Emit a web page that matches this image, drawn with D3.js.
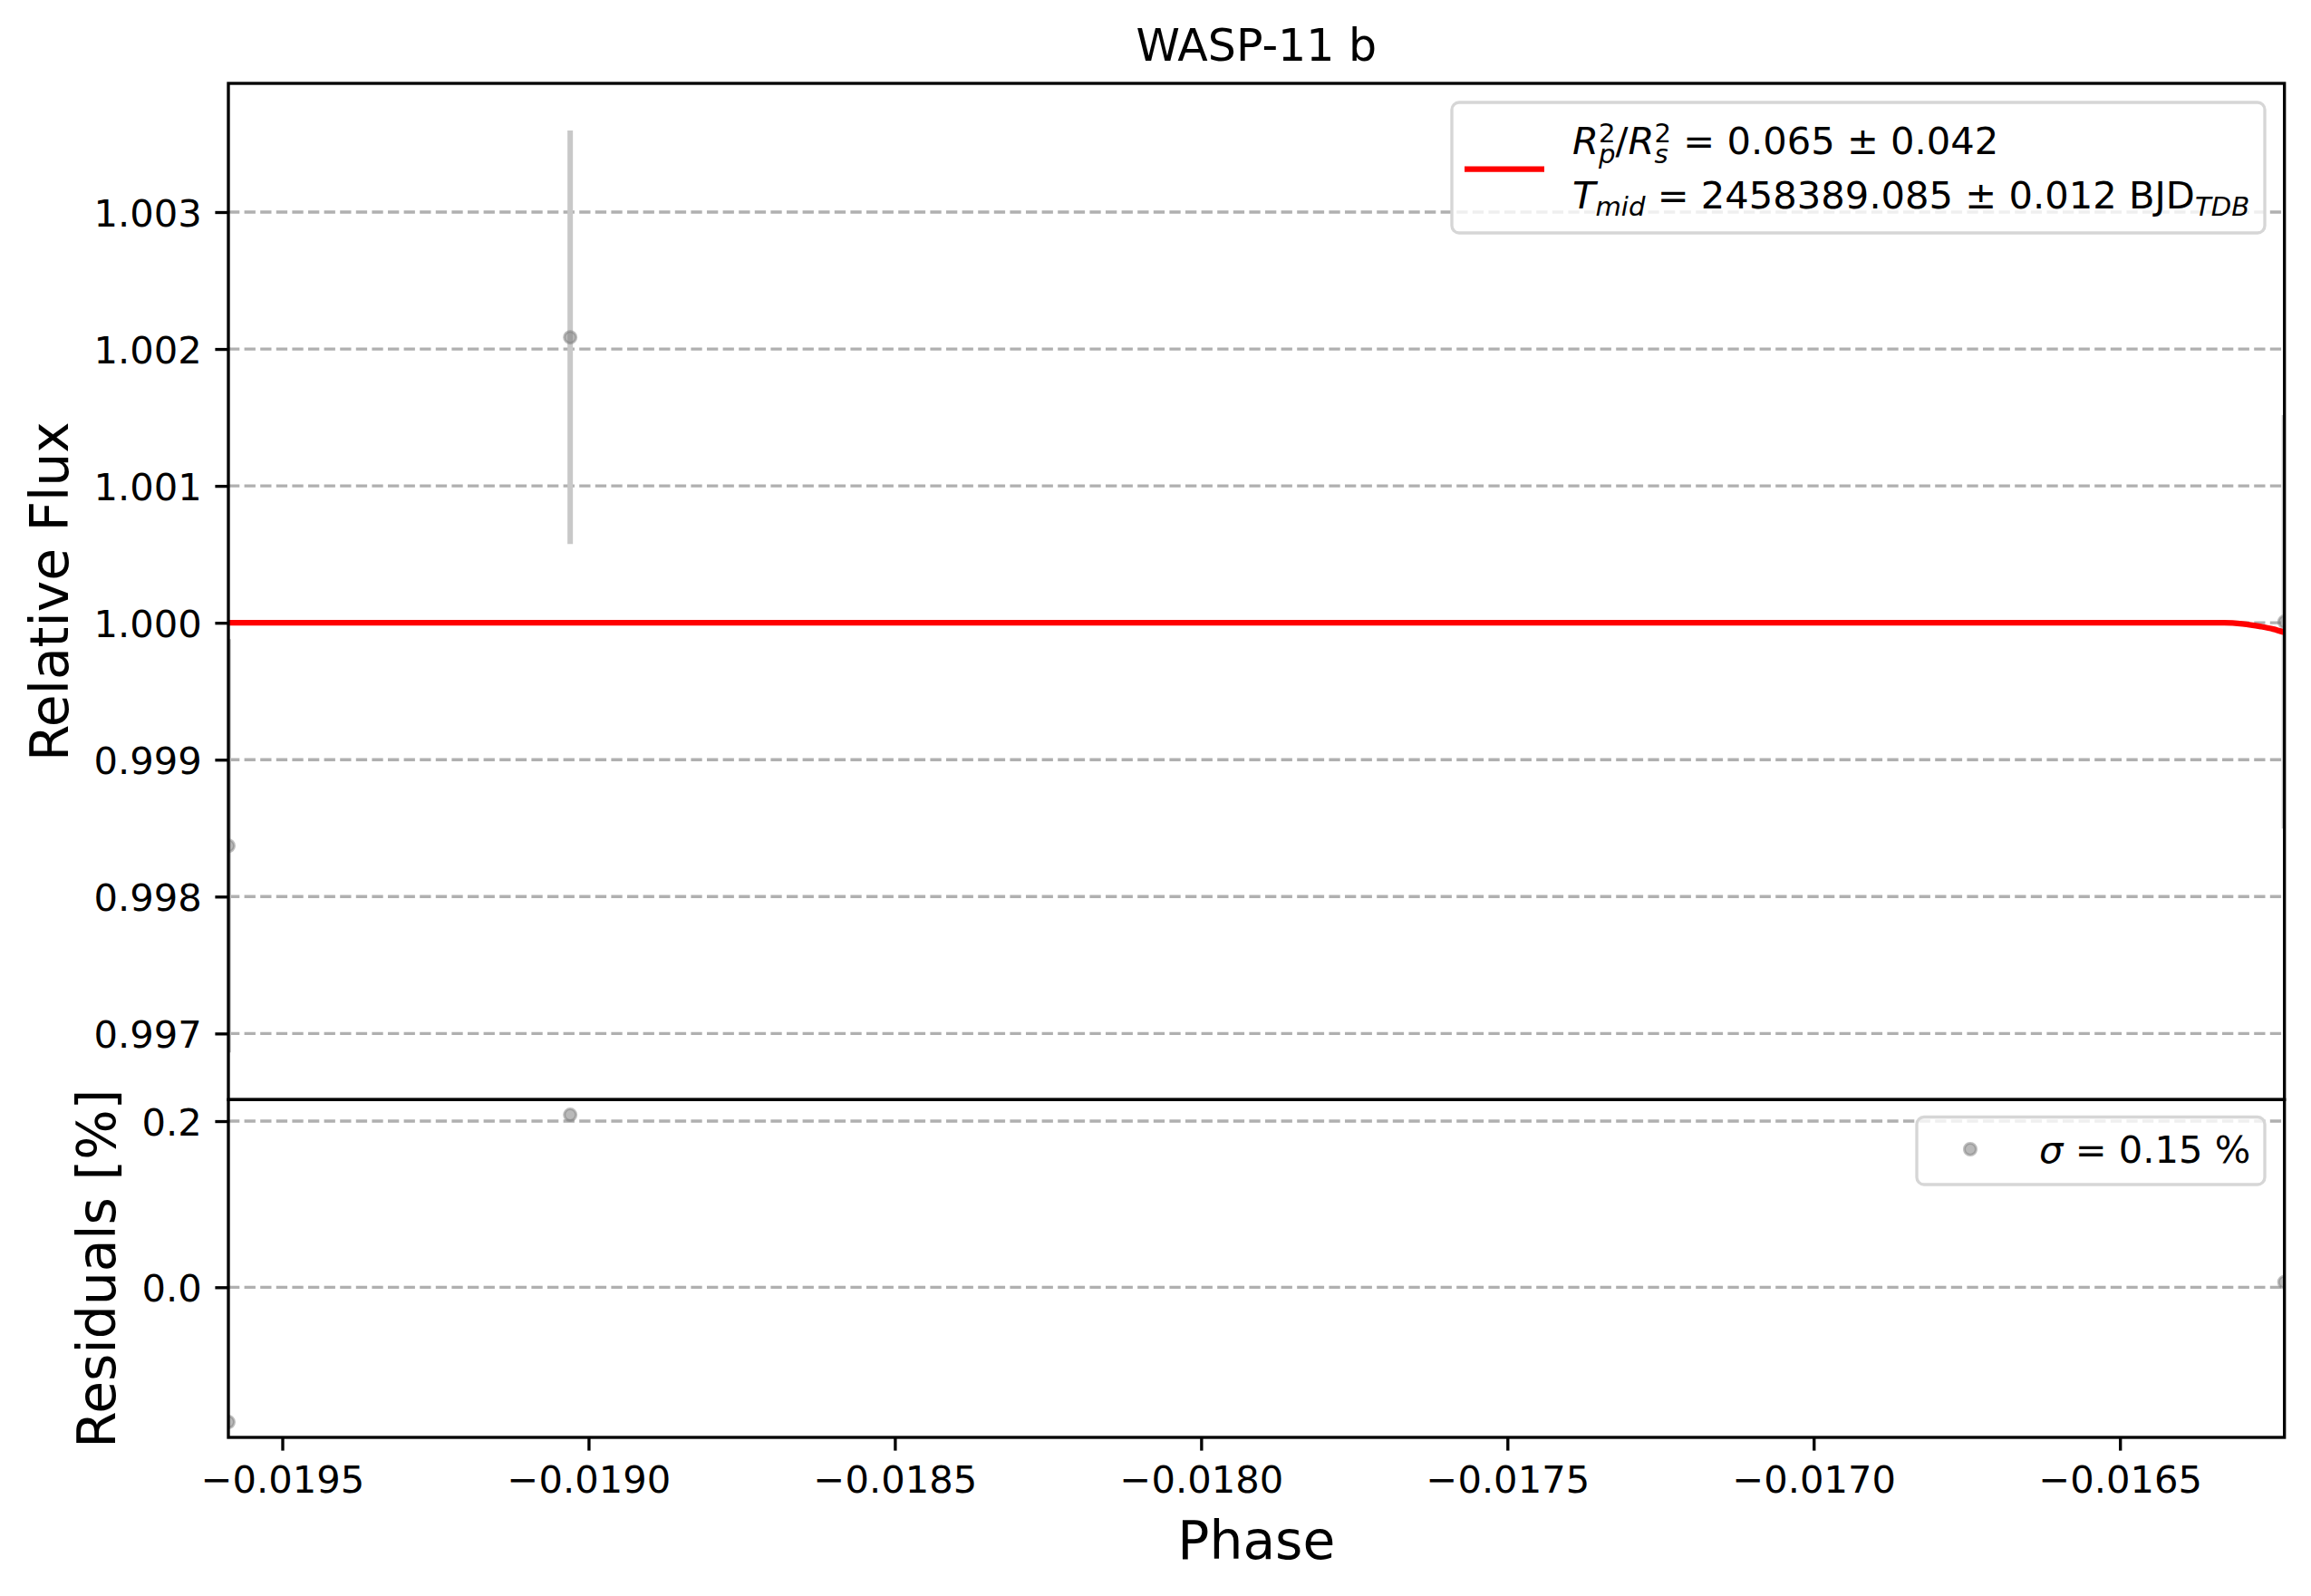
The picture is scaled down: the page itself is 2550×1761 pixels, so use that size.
<!DOCTYPE html>
<html>
<head>
<meta charset="utf-8">
<script src="https://cdn.jsdelivr.net/npm/d3@7"></script>
<style>
    body { margin: 0; background: #fff; }
    text { font-family: "DejaVu Sans", sans-serif; white-space: pre; }
</style>
</head>
<body>
<div id="chart"></div>
<script>
// observed points
const phase = [-0.019588, -0.01903, -0.0162315];
const flux = [0.998371, 1.002085, 1.000007];
const fluxErr = [0.00151, 0.00151, 0.00151];
const residuals = [-0.1623, 0.2076, 0.0062]; // percent

// transit model
const modelPhase = [-0.019588, -0.01633, -0.0163, -0.01627, -0.01625, -0.0162315];
const modelFlux = [1.0, 1.0, 0.999992, 0.999972, 0.999954, 0.99993];

// ticks
const phaseTicks = [-0.0195, -0.019, -0.0185, -0.018, -0.0175, -0.017, -0.0165];
const fluxTicks = [0.997, 0.998, 0.999, 1.000, 1.001, 1.002, 1.003];
const residTicks = [0.0, 0.2];

const phaseDomain = [-0.019588, -0.0162315];
const fluxDomain = [0.996517, 1.00394];
const residDomain = [-0.1808, 0.2259];

const width = 2550, height = 1761;
const axL = 252, axR = 2520.7, axT = 92, axM = 1213.3, axB = 1586;
const tickFont = 41.67, labelFont = 58.3;
const gray = '#808080';

const svg = d3.select('#chart').append('svg')
    .attr('width', width)
    .attr('height', height);

const x = d3.scaleLinear().domain(phaseDomain).range([axL, axR]);
const yFlux = d3.scaleLinear().domain(fluxDomain).range([axM, axT]);
const yRes = d3.scaleLinear().domain(residDomain).range([axB, axM]);

const defs = svg.append('defs');
defs.append('clipPath').attr('id', 'clipTop')
    .append('rect').attr('x', axL).attr('y', axT).attr('width', axR - axL).attr('height', axM - axT);
defs.append('clipPath').attr('id', 'clipBottom')
    .append('rect').attr('x', axL).attr('y', axM).attr('width', axR - axL).attr('height', axB - axM);

function grid(ticks, y) {
    svg.append('g')
        .selectAll('line')
        .data(ticks)
        .enter()
        .append('line')
        .attr('x1', axL)
        .attr('x2', axR)
        .attr('y1', d => y(d))
        .attr('y2', d => y(d))
        .attr('stroke', '#b0b0b0')
        .attr('stroke-width', 3.33)
        .attr('stroke-dasharray', '12.3,5.3');
}

function styleAxis(g) {
    g.select('.domain').remove();
    g.selectAll('.tick line').attr('stroke', '#000').attr('stroke-width', 3.33);
    g.selectAll('.tick text')
        .attr('fill', '#000')
        .style('font-family', '"DejaVu Sans", sans-serif')
        .style('font-size', tickFont + 'px');
}

function dots(g, data, cy) {
    g.selectAll('circle')
        .data(data)
        .enter()
        .append('circle')
        .attr('cx', d => x(d.p))
        .attr('cy', cy)
        .attr('r', 6.5)
        .attr('fill', gray)
        .attr('fill-opacity', 0.55)
        .attr('stroke', gray)
        .attr('stroke-opacity', 0.5)
        .attr('stroke-width', 3);
}

grid(fluxTicks, yFlux);
grid(residTicks, yRes);

// upper panel: data + model
const topData = svg.append('g').attr('clip-path', 'url(#clipTop)');
const pts = phase.map((p, i) => ({ p, f: flux[i], e: fluxErr[i], r: residuals[i] }));

topData.selectAll('line.err')
    .data(pts)
    .enter()
    .append('line')
    .attr('class', 'err')
    .attr('x1', d => x(d.p))
    .attr('x2', d => x(d.p))
    .attr('y1', d => yFlux(d.f - d.e))
    .attr('y2', d => yFlux(d.f + d.e))
    .attr('stroke', '#c8c8c8')
    .attr('stroke-width', 6);

dots(topData, pts, d => yFlux(d.f));

const model = modelPhase.map((p, i) => [p, modelFlux[i]]);
topData.append('path')
    .datum(model)
    .attr('fill', 'none')
    .attr('stroke', '#ff0000')
    .attr('stroke-width', 6.25)
    .attr('d', d3.line().x(d => x(d[0])).y(d => yFlux(d[1])).curve(d3.curveMonotoneX));

// lower panel: residuals
const botData = svg.append('g').attr('clip-path', 'url(#clipBottom)');
dots(botData, pts, d => yRes(d.r));

// axes
const yAxisTop = svg.append('g')
    .attr('transform', `translate(${axL},0)`)
    .call(d3.axisLeft(yFlux).tickValues(fluxTicks).tickSize(14.6).tickPadding(14.6).tickFormat(d3.format('.3f')));
styleAxis(yAxisTop);
yAxisTop.selectAll('.tick text').attr('dy', '0.36em');

const yAxisBot = svg.append('g')
    .attr('transform', `translate(${axL},0)`)
    .call(d3.axisLeft(yRes).tickValues(residTicks).tickSize(14.6).tickPadding(14.6).tickFormat(d3.format('.1f')));
styleAxis(yAxisBot);
yAxisBot.selectAll('.tick text').attr('dy', '0.36em');

const xAxis = svg.append('g')
    .attr('transform', `translate(0,${axB})`)
    .call(d3.axisBottom(x).tickValues(phaseTicks).tickSize(14.6).tickPadding(14.6).tickFormat(d3.format('.4f')));
styleAxis(xAxis);
xAxis.selectAll('.tick text').attr('dy', '0.76em');

// frames
[[axT, axM], [axM, axB]].forEach(([y0, y1]) => {
    svg.append('rect')
        .attr('x', axL)
        .attr('y', y0)
        .attr('width', axR - axL)
        .attr('height', y1 - y0)
        .attr('fill', 'none')
        .attr('stroke', '#000')
        .attr('stroke-width', 3.33);
});

// labels
svg.append('text')
    .attr('x', (axL + axR) / 2)
    .attr('y', 66.7)
    .attr('text-anchor', 'middle')
    .style('font-size', '49px')
    .text('WASP-11 b');

svg.append('text')
    .attr('x', (axL + axR) / 2)
    .attr('y', 1720)
    .attr('text-anchor', 'middle')
    .style('font-size', labelFont + 'px')
    .text('Phase');

svg.append('text')
    .attr('transform', `translate(75,${(axT + axM) / 2}) rotate(-90)`)
    .attr('text-anchor', 'middle')
    .style('font-size', labelFont + 'px')
    .text('Relative Flux');

svg.append('text')
    .attr('transform', `translate(127,${(axM + axB) / 2}) rotate(-90)`)
    .attr('text-anchor', 'middle')
    .style('font-size', labelFont + 'px')
    .text('Residuals [%]');

// math-like text: one <text> per line, pieces as tspans
function mathText(g, x0, y0, parts, size) {
    const t = g.append('text').attr('x', x0).attr('y', y0).style('font-size', size + 'px');
    let cx = x0;
    parts.forEach(p => {
        if (p.sup !== undefined || p.sub !== undefined) {
            let w = 0;
            if (p.sup !== undefined) {
                const s = t.append('tspan').attr('x', cx).attr('y', y0 - 0.3 * size)
                    .style('font-size', (size * 0.7) + 'px').text(p.sup);
                w = Math.max(w, s.node().getComputedTextLength());
            }
            if (p.sub !== undefined) {
                const s = t.append('tspan').attr('x', cx)
                    .attr('y', y0 + (p.sup !== undefined ? 0.24 : 0.18) * size)
                    .style('font-size', (size * 0.7) + 'px')
                    .style('font-style', 'italic')
                    .text(p.sub);
                w = Math.max(w, s.node().getComputedTextLength());
            }
            cx += w;
        } else {
            const s = t.append('tspan').attr('x', cx).attr('y', y0)
                .style('font-style', p.it ? 'italic' : 'normal')
                .text(p.t);
            cx += s.node().getComputedTextLength();
        }
    });
}

// upper legend
const leg1 = svg.append('g');
leg1.append('rect')
    .attr('x', 1602).attr('y', 113).attr('width', 897).attr('height', 144)
    .attr('rx', 8)
    .attr('fill', '#fff').attr('fill-opacity', 0.8)
    .attr('stroke', '#d6d6d6').attr('stroke-width', 3.33);
leg1.append('line')
    .attr('x1', 1616).attr('x2', 1704).attr('y1', 186.7).attr('y2', 186.7)
    .attr('stroke', '#ff0000').attr('stroke-width', 6.25);
mathText(leg1, 1735, 170, [
    { t: 'R', it: true }, { sup: '2', sub: 'p' },
    { t: '/' },
    { t: 'R', it: true }, { sup: '2', sub: 's' },
    { t: ' = 0.065 ± 0.042' }
], tickFont);
mathText(leg1, 1735, 230, [
    { t: 'T', it: true }, { sub: 'mid' },
    { t: ' = 2458389.085 ± 0.012 BJD' }, { sub: 'TDB' }
], tickFont);

// lower legend
const leg2 = svg.append('g');
leg2.append('rect')
    .attr('x', 2115).attr('y', 1232.5).attr('width', 384).attr('height', 74.5)
    .attr('rx', 8)
    .attr('fill', '#fff').attr('fill-opacity', 0.8)
    .attr('stroke', '#d6d6d6').attr('stroke-width', 3.33);
dots(leg2, [{ p: 0 }], 1268);
leg2.select('circle').attr('cx', 2174);
mathText(leg2, 2250, 1283, [
    { t: 'σ', it: true }, { t: ' = 0.15 %' }
], tickFont);
</script>
</body>
</html>
